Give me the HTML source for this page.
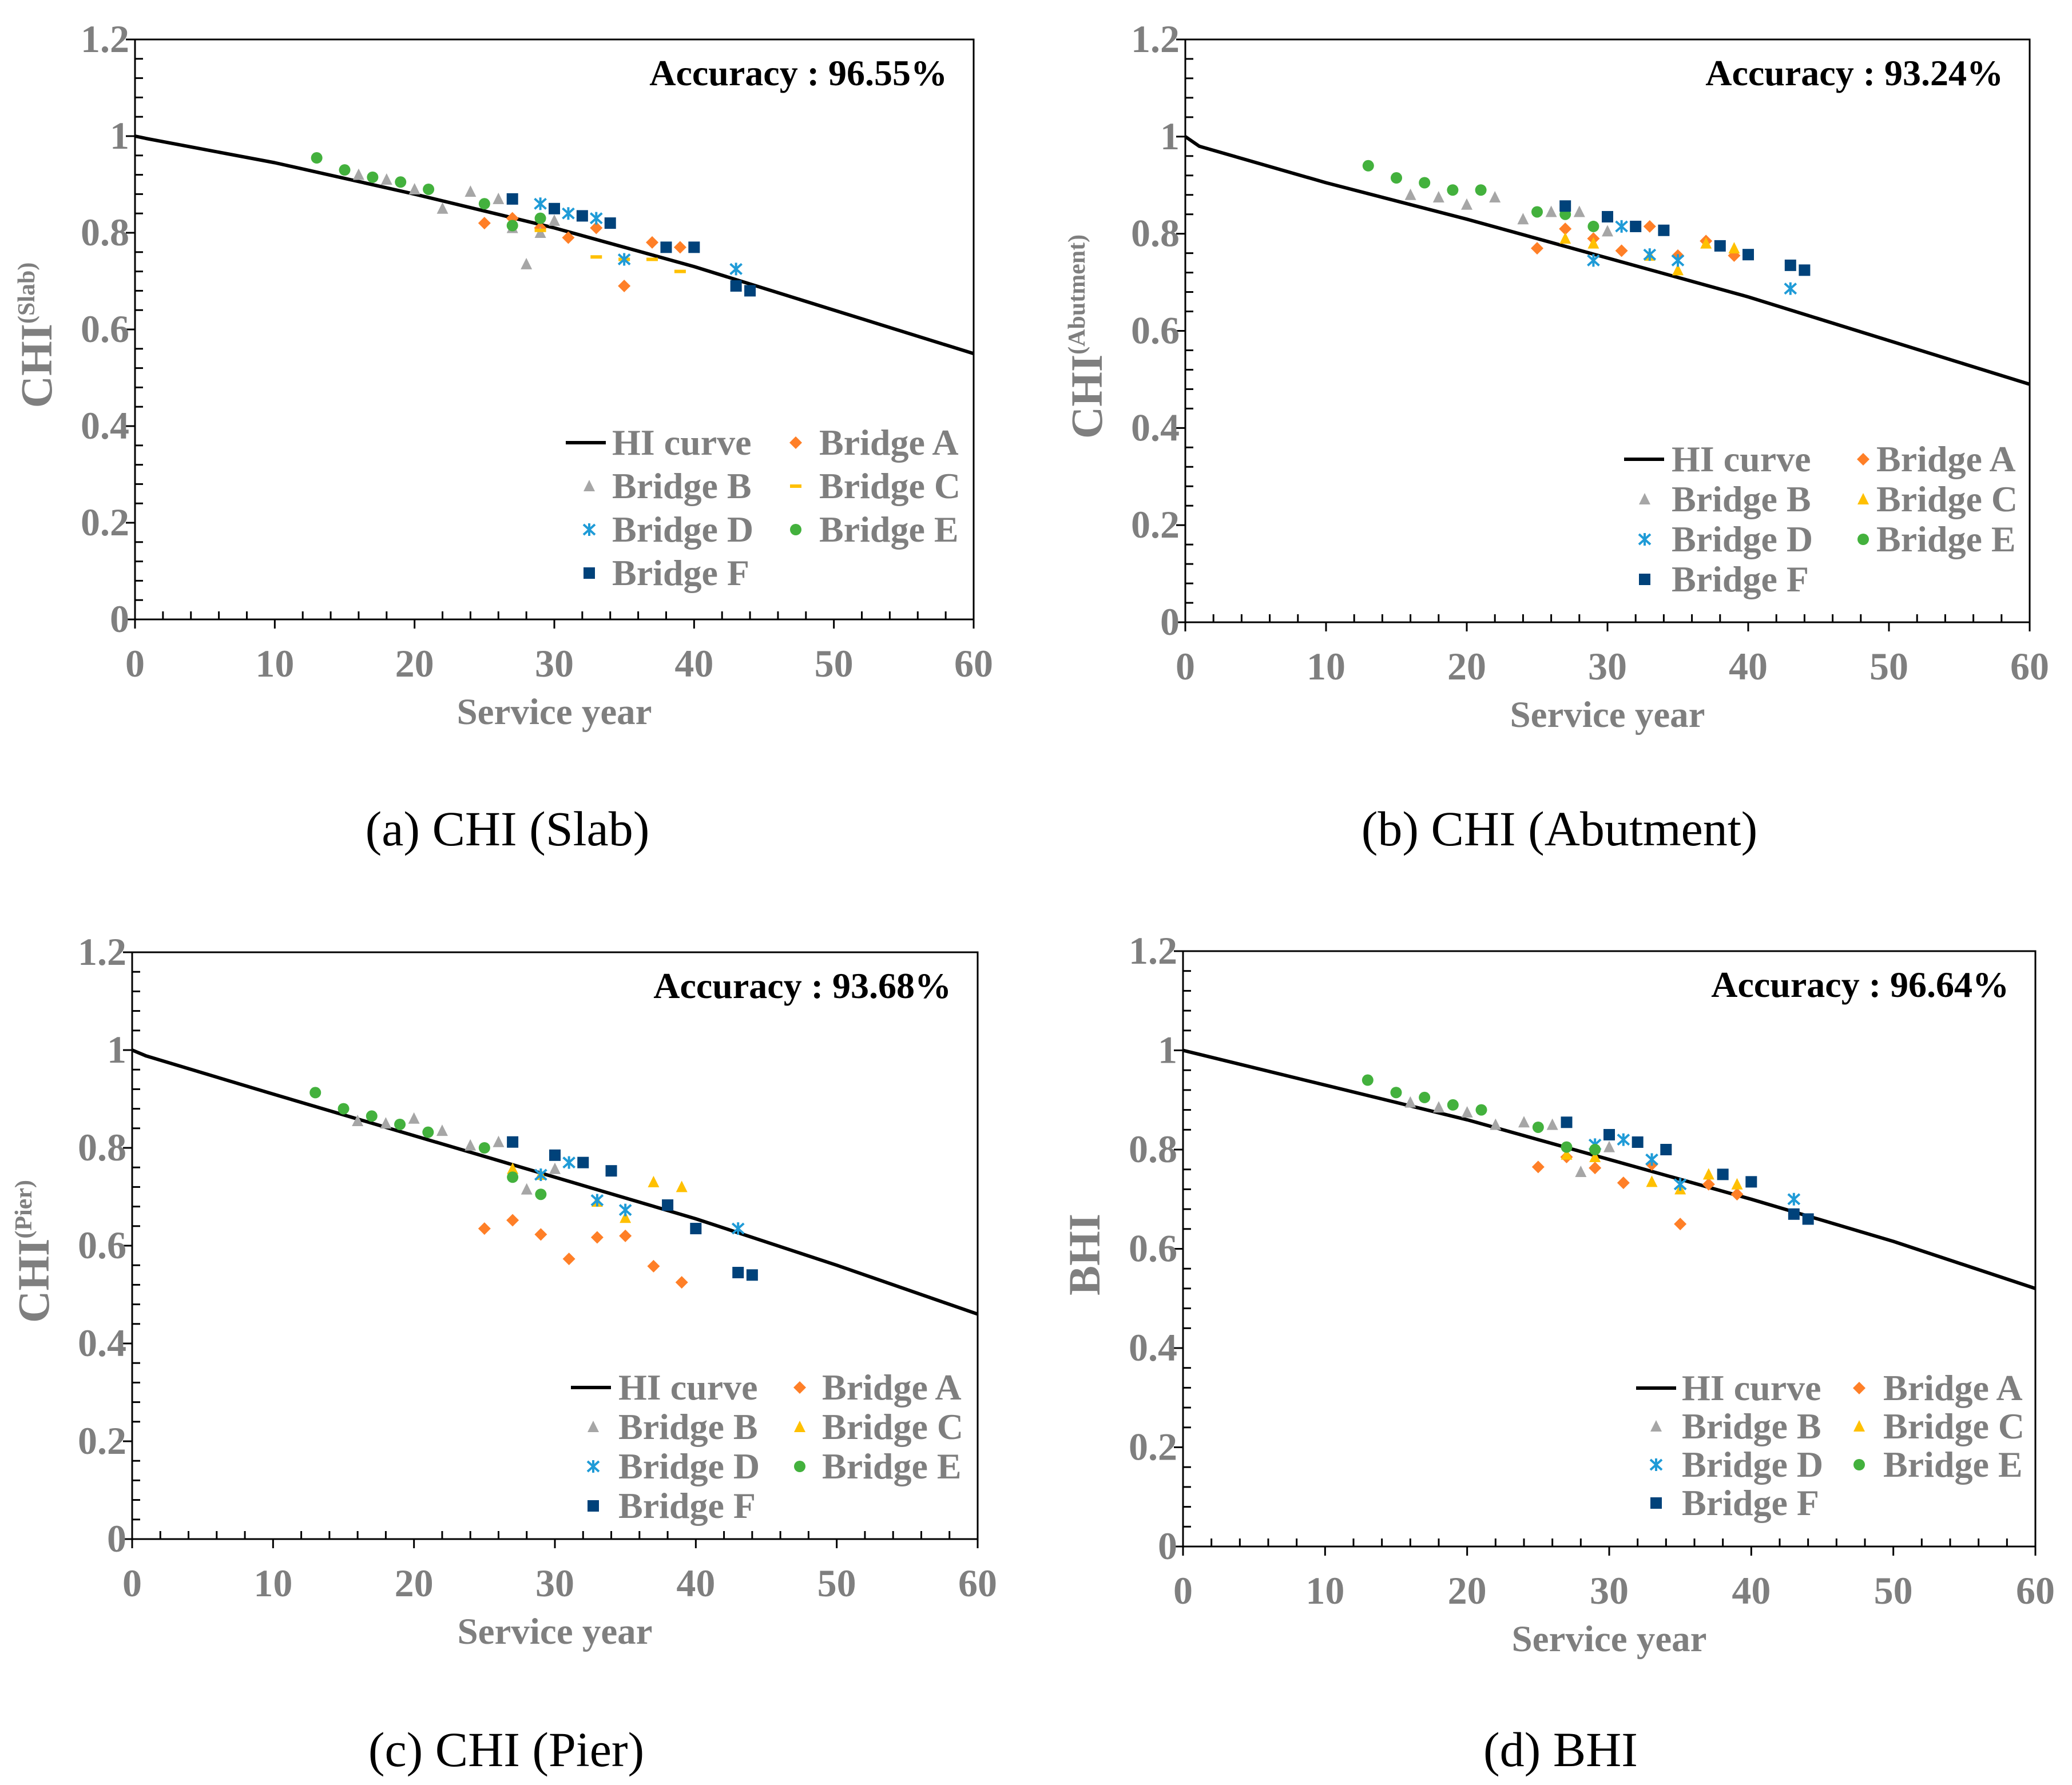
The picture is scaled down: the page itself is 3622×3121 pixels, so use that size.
<!DOCTYPE html>
<html><head><meta charset="utf-8">
<style>
html,body{margin:0;padding:0;background:#fff;}
svg{display:block;}
</style></head>
<body>
<svg id="fig" width="3622" height="3121" viewBox="0 0 3622 3121" xmlns="http://www.w3.org/2000/svg"></svg>
<script>
// ---- data ----
const years = [0,1,10,20,30,40,50,60];
const curveA = [1,0.994,0.945,0.88,0.81,0.73,0.64,0.55];
const curveB = [1,0.98,0.905,0.83,0.75,0.67,0.58,0.49];
const curveC = [1,0.988,0.91,0.825,0.74,0.655,0.56,0.46];
const curveD = [1,0.993,0.93,0.86,0.78,0.70,0.615,0.52];

const xA = [25,27,29,31,33,35,37,39];
const xB = [16,18,20,22,24,26,27,28,29,30];
const xBb = [16,18,20,22,24,26,28,30];
const xC5 = [29,33,35,37,39];
const xC6 = [27,29,33,35,37,39];
const xD = [29,31,33,35,43];
const xE = [13,15,17,19,21,25,27,29];
const xF = [27,30,32,34,38,40,43,44];

// panel a (Slab)
const slabA = [0.82,0.83,0.81,0.79,0.81,0.69,0.78,0.77];
const slabB = [0.92,0.91,0.89,0.85,0.885,0.87,0.81,0.735,0.80,0.825];
const slabC = [0.805,0.75,0.745,0.745,0.72];
const slabD = [0.86,0.84,0.83,0.745,0.725];
const slabE = [0.955,0.93,0.915,0.905,0.89,0.86,0.815,0.83];
const slabF = [0.87,0.85,0.835,0.82,0.77,0.77,0.69,0.68];
// panel b (Abutment)
const abuA = [0.77,0.81,0.79,0.765,0.815,0.755,0.785,0.755];
const abuB = [0.88,0.875,0.86,0.875,0.83,0.845,0.845,0.805];
const abuC = [0.79,0.78,0.755,0.725,0.78,0.77];
const abuD = [0.745,0.815,0.757,0.745,0.687];
const abuE = [0.94,0.915,0.905,0.89,0.89,0.845,0.84,0.815];
const abuF = [0.857,0.835,0.815,0.807,0.775,0.757,0.735,0.725];
// panel c (Pier)
const pierA = [0.635,0.652,0.623,0.573,0.617,0.62,0.558,0.525];
const pierB = [0.855,0.85,0.86,0.835,0.805,0.812,0.715,0.757];
const pierC = [0.757,0.745,0.69,0.657,0.73,0.72];
const pierD = [0.745,0.77,0.693,0.673,0.635];
const pierE = [0.913,0.88,0.865,0.848,0.832,0.80,0.74,0.705];
const pierF = [0.812,0.785,0.77,0.753,0.683,0.635,0.545,0.54];
// panel d (BHI)
const bhiA = [0.765,0.785,0.763,0.733,0.77,0.65,0.73,0.71];
const bhiB = [0.895,0.885,0.875,0.85,0.855,0.85,0.755,0.805];
const bhiC = [0.79,0.785,0.735,0.72,0.75,0.73];
const bhiD = [0.81,0.82,0.78,0.73,0.70];
const bhiE = [0.94,0.915,0.905,0.89,0.88,0.845,0.805,0.80];
const bhiF = [0.855,0.83,0.815,0.80,0.75,0.735,0.67,0.66];

const xTicks = [0,10,20,30,40,50,60];
const yTicks = [0,0.2,0.4,0.6,0.8,1,1.2];
const yTickLabels = ["0","0.2","0.4","0.6","0.8","1","1.2"];

const NS = "http://www.w3.org/2000/svg";
const svg = document.getElementById('fig');
const COL = {A:'#ff7f27',B:'#a6a6a6',C:'#ffc000',D:'#1f9bd7',E:'#43b13d',F:'#00427a'};
const GRAY = '#7f7f7f';
const FONT = 'Liberation Serif, serif';

function mk(tag, attrs, parent){
  const e = document.createElementNS(NS, tag);
  for (const k in attrs) e.setAttribute(k, attrs[k]);
  (parent||svg).appendChild(e);
  return e;
}

function marker(g, type, cx, cy, name){
  let e;
  const c = COL[type];
  if (type==='A'){ e = mk('polygon',{points:`${cx},${cy-11} ${cx+11},${cy} ${cx},${cy+11} ${cx-11},${cy}`,fill:c},g); }
  else if (type==='B' || type==='Ctri'){ e = mk('polygon',{points:`${cx},${cy-11} ${cx+10},${cy+9} ${cx-10},${cy+9}`,fill:type==='B'?c:COL.C},g); }
  else if (type==='C'){ e = mk('rect',{x:cx-10,y:cy-3,width:20,height:6,fill:c},g); }
  else if (type==='D'){
    e = mk('path',{d:`M${cx-10},${cy-9}L${cx+10},${cy+9}M${cx+10},${cy-9}L${cx-10},${cy+9}M${cx},${cy-11}L${cx},${cy+11}`,stroke:c,'stroke-width':4,fill:'none'},g);
  }
  else if (type==='E'){ e = mk('circle',{cx:cx,cy:cy,r:10,fill:c},g); }
  else { e = mk('rect',{x:cx-10,y:cy-10,width:20,height:20,fill:c},g); }
  
  
  return e;
}

function panel(p){
  const g = mk('g',{});
  
  
  const X = v => p.x0 + (p.x1-p.x0)*v/60;
  const Y = v => p.y1 - (p.y1-p.y0)*v/1.2;
  const fr = mk('rect',{x:p.x0,y:p.y0,width:p.x1-p.x0,height:p.y1-p.y0,fill:'none',stroke:'#000','stroke-width':3},g);
  
  
  for (let v=0; v<=1.2001; v+=0.04){
    const y = Y(v);
    const major = Math.abs(v/0.2 - Math.round(v/0.2))<1e-6;
    mk('line',{x1:major?p.x0-16:p.x0,x2:major?p.x0:p.x0+14,y1:y,y2:y,stroke:'#000','stroke-width':3},g);
  }
  yTicks.forEach((v,i)=>{
    const t = mk('text',{x:p.x0-10,y:Y(v)+22,'text-anchor':'end','font-family':FONT,'font-weight':'bold','font-size':68,fill:GRAY},g);
    t.textContent = yTickLabels[i];
    
    
  });
  for (let v=0; v<=60; v+=2){
    const x = X(v);
    const major = v%10===0;
    mk('line',{x1:x,x2:x,y1:major?p.y1+16:p.y1-14,y2:p.y1,stroke:'#000','stroke-width':3},g);
  }
  xTicks.forEach(v=>{
    const t = mk('text',{x:X(v),y:p.y1+100,'text-anchor':'middle','font-family':FONT,'font-weight':'bold','font-size':68,fill:GRAY},g);
    t.textContent = String(v);
    
    
  });
  const xt = mk('text',{x:(p.x0+p.x1)/2,y:p.y1+183,'text-anchor':'middle','font-family':FONT,'font-weight':'bold','font-size':65,fill:GRAY},g);
  xt.textContent = 'Service year';
  
  
  const cy = (p.y0+p.y1)/2 + 10;
  const yt = mk('text',{x:0,y:0,transform:`translate(${p.x0-146},${cy}) rotate(-90)`,'text-anchor':'middle','font-family':FONT,'font-weight':'bold','font-size':78,fill:GRAY},g);
  
  
  const t1 = mk('tspan',{},yt); t1.textContent = p.ylab;
  if (p.ysup){ const t2 = mk('tspan',{'font-size':42,dy:-30},yt); t2.textContent = p.ysup; }
  const d = years.map((v,i)=>(i?'L':'M')+X(v).toFixed(1)+','+Y(p.curve[i]).toFixed(1)).join('');
  const cv = mk('path',{d:d,fill:'none',stroke:'#000','stroke-width':6,'stroke-linejoin':'round'},g);
  
  
  p.series.forEach(s=>{
    s.xs.forEach((xv,i)=>{ marker(g, s.type, X(xv), Y(s.ys[i]), 'point-bridge-'+s.key); });
  });
  const ac = mk('text',{x:p.x1-46,y:p.y0+80,'text-anchor':'end','font-family':FONT,'font-weight':'bold','font-size':64,fill:'#000'},g);
  ac.textContent = 'Accuracy : ' + p.acc;
  
  
  const L = p.leg;
  const lg = mk('g',{},g);
  
  
  const entries = [
    {t:'HI curve',col:0,row:0,type:'line'},
    {t:'Bridge A',col:1,row:0,type:'A'},
    {t:'Bridge B',col:0,row:1,type:'B'},
    {t:'Bridge C',col:1,row:1,type:p.cType},
    {t:'Bridge D',col:0,row:2,type:'D'},
    {t:'Bridge E',col:1,row:2,type:'E'},
    {t:'Bridge F',col:0,row:3,type:'F'}
  ];
  entries.forEach(en=>{
    const y = L.y + en.row*L.dy;
    const tx = en.col ? L.t2 : L.t1;
    if (en.type==='line'){
      const ln = mk('line',{x1:L.l1,x2:L.l1+70,y1:y,y2:y,stroke:'#000','stroke-width':6},lg);
      
      
    } else {
      marker(lg, en.type, en.col?L.m2:L.m1, y, 'legend-marker');
    }
    const t = mk('text',{x:tx,y:y+21,'font-family':FONT,'font-weight':'bold','font-size':64,fill:GRAY},lg);
    t.textContent = en.t;
    
    
  });
  const cap = mk('text',{x:p.capX,y:p.capY,'text-anchor':'middle','font-family':FONT,'font-size':86,fill:'#000'},g);
  cap.textContent = p.caption;
  
  
}

panel({id:'panel-slab',x0:236,x1:1702,y0:69,y1:1083,curve:curveA,ylab:'CHI',ysup:'(Slab)',acc:'96.55%',cType:'C',
  series:[{key:'a',type:'A',xs:xA,ys:slabA},{key:'b',type:'B',xs:xB,ys:slabB},{key:'c',type:'C',xs:xC5,ys:slabC},
          {key:'d',type:'D',xs:xD,ys:slabD},{key:'e',type:'E',xs:xE,ys:slabE},{key:'f',type:'F',xs:xF,ys:slabF}],
  leg:{l1:989,t1:1070,m1:1030,m2:1391,t2:1432,y:774,dy:76},caption:'(a) CHI (Slab)',capX:887,capY:1478});
panel({id:'panel-abutment',x0:2072,x1:3548,y0:69,y1:1088,curve:curveB,ylab:'CHI',ysup:'(Abutment)',acc:'93.24%',cType:'Ctri',
  series:[{key:'a',type:'A',xs:xA,ys:abuA},{key:'b',type:'B',xs:xBb,ys:abuB},{key:'c',type:'Ctri',xs:xC6,ys:abuC},
          {key:'d',type:'D',xs:xD,ys:abuD},{key:'e',type:'E',xs:xE,ys:abuE},{key:'f',type:'F',xs:xF,ys:abuF}],
  leg:{l1:2839,t1:2922,m1:2875,m2:3257,t2:3280,y:803,dy:70},caption:'(b) CHI (Abutment)',capX:2726,capY:1478});
panel({id:'panel-pier',x0:231,x1:1709,y0:1665,y1:2691,curve:curveC,ylab:'CHI',ysup:'(Pier)',acc:'93.68%',cType:'Ctri',
  series:[{key:'a',type:'A',xs:xA,ys:pierA},{key:'b',type:'B',xs:xBb,ys:pierB},{key:'c',type:'Ctri',xs:xC6,ys:pierC},
          {key:'d',type:'D',xs:xD,ys:pierD},{key:'e',type:'E',xs:xE,ys:pierE},{key:'f',type:'F',xs:xF,ys:pierF}],
  leg:{l1:998,t1:1081,m1:1037,m2:1398,t2:1437,y:2426,dy:69},caption:'(c) CHI (Pier)',capX:885,capY:3088});
panel({id:'panel-bhi',x0:2068,x1:3558,y0:1663,y1:2704,curve:curveD,ylab:'BHI',ysup:'',acc:'96.64%',cType:'Ctri',
  series:[{key:'a',type:'A',xs:xA,ys:bhiA},{key:'b',type:'B',xs:xBb,ys:bhiB},{key:'c',type:'Ctri',xs:xC6,ys:bhiC},
          {key:'d',type:'D',xs:xD,ys:bhiD},{key:'e',type:'E',xs:xE,ys:bhiE},{key:'f',type:'F',xs:xF,ys:bhiF}],
  leg:{l1:2860,t1:2940,m1:2895,m2:3250,t2:3292,y:2427,dy:67},caption:'(d) BHI',capX:2728,capY:3088});
</script>
</body></html>
